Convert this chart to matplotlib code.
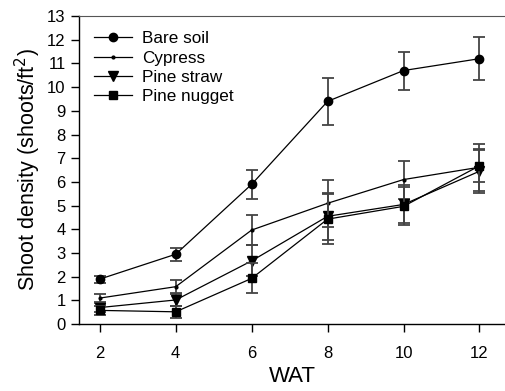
import matplotlib
matplotlib.use("Agg")
import matplotlib.pyplot as plt

plt.rcParams['font.family'] = ['Liberation Sans', 'DejaVu Sans']

wat = [2, 4, 6, 8, 10, 12]

bare_soil = [1.9, 2.95, 5.9, 9.4, 10.7, 11.2]
bare_soil_err = [0.15, 0.27, 0.62, 1.0, 0.8, 0.9]

cypress = [1.1, 1.58, 3.97, 5.1, 6.1, 6.62]
cypress_err = [0.18, 0.27, 0.62, 1.0, 0.8, 1.0]

pine_straw = [0.7, 1.02, 2.67, 4.55, 5.05, 6.45]
pine_straw_err = [0.2, 0.25, 0.65, 1.0, 0.8, 0.9]

pine_nugget = [0.58, 0.52, 1.93, 4.43, 4.97, 6.68]
pine_nugget_err = [0.2, 0.25, 0.63, 1.05, 0.8, 0.7]

fig = plt.figure(figsize=(5.06, 3.91), dpi=100)
ax = fig.add_axes([0.156, 0.171, 0.844, 0.788])

series = [
    ("Bare soil", bare_soil, bare_soil_err, "o", 6),
    ("Cypress", cypress, cypress_err, ".", 4),
    ("Pine straw", pine_straw, pine_straw_err, "v", 6.5),
    ("Pine nugget", pine_nugget, pine_nugget_err, "s", 6),
]

for name, vals, err, mk, ms in series:
    ax.errorbar(wat, vals, yerr=err, fmt="none", ecolor="#444444",
                elinewidth=1.3, capsize=4, capthick=1.3)
    ax.plot(wat, vals, color="black", lw=0.9, marker=mk, markersize=ms,
            markerfacecolor="black", markeredgecolor="black", label=name)

ax.set_xlim(1.45, 12.7)
ax.set_ylim(0, 13)
ax.set_xticks(wat)
ax.set_yticks(range(0, 14))
ax.tick_params(axis="both", direction="out", length=6, width=1, labelsize=12)
ax.tick_params(axis="x", pad=10)
ax.spines["right"].set_visible(False)
ax.spines["top"].set_color("#555555")
for s in ["left", "bottom"]:
    ax.spines[s].set_linewidth(1)

ax.set_xlabel("WAT", fontsize=16, labelpad=3)
ax.set_ylabel("Shoot density (shoots/ft$^2$)", fontsize=15.5, labelpad=3)

ax.legend(loc="upper left", frameon=False, fontsize=12.3, handlelength=2.2,
          handletextpad=0.6, labelspacing=0.25, bbox_to_anchor=(0.0, 1.0))

fig.savefig("out.png", dpi=100)
